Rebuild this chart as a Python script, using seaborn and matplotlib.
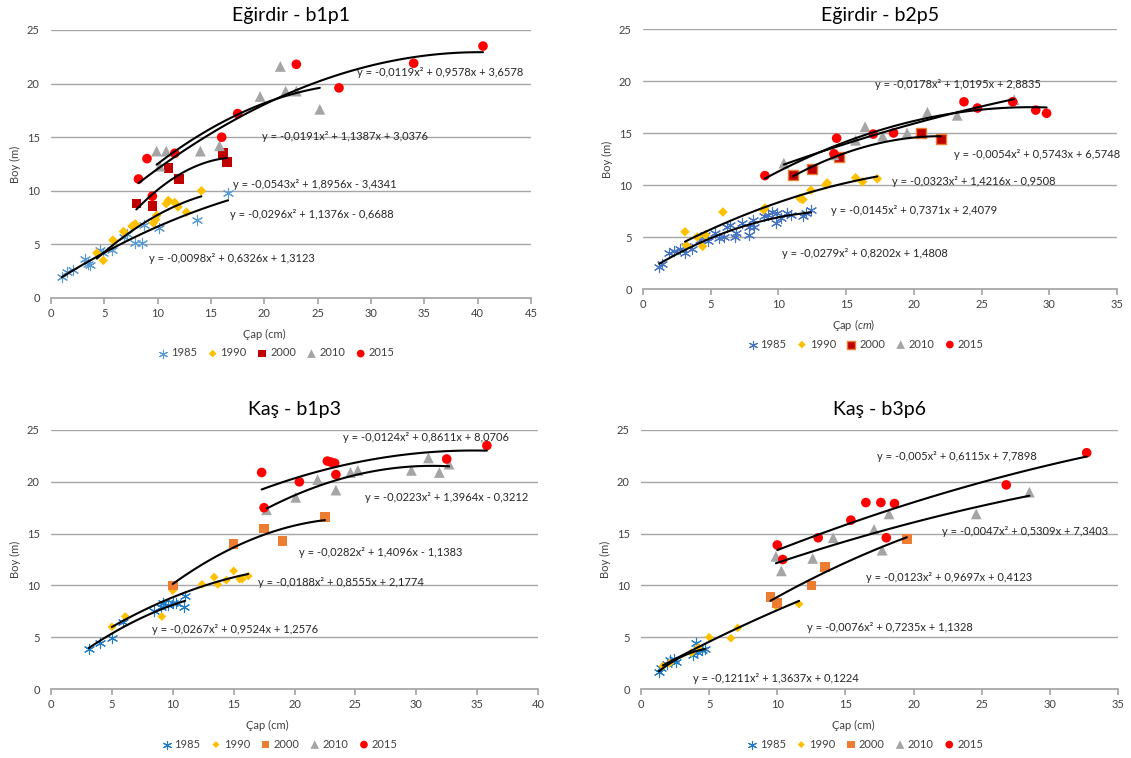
import numpy as np
import pandas as pd
import matplotlib.pyplot as plt
import seaborn as sns

sns.set_theme(style='white')
plt.rcParams['font.family'] = ['Lato', 'DejaVu Sans']
plt.rcParams['mathtext.fontset'] = 'custom'
plt.rcParams['mathtext.it'] = 'Lato:italic'
plt.rcParams['mathtext.rm'] = 'Lato'

years = ['1985', '1990', '2000', '2010', '2015']

# Eğirdir - b1p1
b1p1_x85 = [1.0, 1.5, 2.1, 3.2, 3.5, 3.7, 4.6, 4.9, 5.7, 6.8, 7.1, 7.9, 8.5, 8.7, 10.1, 13.7, 16.6]
b1p1_y85 = [2.0, 2.4, 2.6, 3.6, 3.2, 3.1, 4.5, 4.2, 4.5, 5.7, 6.0, 5.1, 5.1, 6.8, 6.5, 7.3, 9.8]
b1p1_x90 = [4.3, 4.9, 5.8, 6.8, 7.6, 7.9, 9.6, 9.8, 9.9, 10.8, 11.0, 11.6, 11.9, 12.7, 14.1]
b1p1_y90 = [4.2, 3.5, 5.4, 6.2, 6.7, 6.9, 7.0, 7.3, 7.7, 8.8, 9.1, 8.9, 8.5, 8.0, 10.0]
b1p1_x00 = [8.0, 9.5, 11.0, 12.0, 16.1, 16.5]
b1p1_y00 = [8.8, 8.6, 12.1, 11.1, 13.5, 12.7]
b1p1_x10 = [9.9, 10.2, 10.8, 14.0, 15.8, 19.6, 21.5, 22.0, 23.0, 25.2]
b1p1_y10 = [13.7, 12.3, 13.7, 13.7, 14.2, 18.8, 21.6, 19.3, 19.3, 17.6]
b1p1_x15 = [8.2, 9.0, 9.5, 11.6, 16.0, 17.5, 23.0, 27.0, 34.0, 40.5]
b1p1_y15 = [11.1, 13.0, 9.5, 13.5, 15.0, 17.2, 21.8, 19.6, 21.9, 23.5]
b1p1_coef = [[-0.0098, 0.6326, 1.3123], [-0.0296, 1.1376, -0.6688], [-0.0543, 1.8956, -3.4341],
             [-0.0191, 1.1387, 3.0376], [-0.0119, 0.9578, 3.6578]]
b1p1_eq = ['y = -0,0098x² + 0,6326x + 1,3123', 'y = -0,0296x² + 1,1376x - 0,6688',
           'y = -0,0543x² + 1,8956x - 3,4341', 'y = -0,0191x² + 1,1387x + 3,0376',
           'y = -0,0119x² + 0,9578x + 3,6578']

# Eğirdir - b2p5
b2p5_x85 = [1.2, 1.4, 1.9, 2.3, 2.7, 3.1, 3.2, 3.6, 4.2, 4.6, 4.8, 5.3, 5.6, 6.0, 6.2, 6.4, 6.8,
            6.9, 7.3, 7.8, 7.8, 8.1, 8.2, 8.9, 9.2, 9.5, 9.8, 9.9, 10.2, 10.6, 10.9, 11.8, 12.0, 12.4]
b2p5_y85 = [2.1, 2.4, 3.5, 3.7, 3.8, 3.5, 4.1, 3.8, 4.7, 5.2, 4.6, 5.4, 4.9, 5.0, 6.0, 6.2, 5.0,
            5.4, 6.3, 6.0, 5.2, 6.6, 6.0, 7.0, 7.1, 7.4, 6.3, 7.3, 6.8, 7.3, 7.1, 7.0, 7.3, 7.6]
b2p5_x90 = [3.1, 3.2, 4.0, 4.4, 4.6, 5.9, 8.9, 9.0, 11.6, 11.8, 12.4, 13.5, 13.6, 15.7, 16.2, 17.3]
b2p5_y90 = [5.5, 4.2, 5.0, 4.1, 5.2, 7.4, 7.6, 7.8, 8.7, 8.6, 9.5, 10.0, 10.2, 10.7, 10.3, 10.6]
b2p5_x00 = [11.1, 12.5, 14.5, 20.5, 22.0]
b2p5_y00 = [11.0, 11.5, 12.7, 15.0, 14.4]
b2p5_x10 = [10.4, 14.1, 15.7, 16.4, 17.7, 19.5, 21.0, 23.2, 27.4]
b2p5_y10 = [12.1, 12.9, 14.3, 15.6, 14.7, 15.0, 17.0, 16.7, 18.2]
b2p5_x15 = [9.0, 14.1, 14.3, 17.0, 18.5, 23.7, 24.7, 27.3, 29.0, 29.8]
b2p5_y15 = [10.9, 13.0, 14.5, 14.9, 15.0, 18.0, 17.4, 18.0, 17.2, 16.9]
b2p5_coef = [[-0.0279, 0.8202, 1.4808], [-0.0145, 0.7371, 2.4079], [-0.0323, 1.4216, -0.9508],
             [-0.0054, 0.5743, 6.5748], [-0.0178, 1.0195, 2.8835]]
b2p5_eq = ['y = -0,0279x² + 0,8202x + 1,4808', 'y = -0,0145x² + 0,7371x + 2,4079',
           'y = -0,0323x² + 1,4216x - 0,9508', 'y = -0,0054x² + 0,5743x + 6,5748',
           'y = -0,0178x² + 1,0195x + 2,8835']

# Kaş - b1p3
b1p3_x85 = [3.1, 4.0, 5.0, 5.9, 8.5, 9.0, 9.2, 9.6, 10.0, 10.3, 10.9, 11.0]
b1p3_y85 = [3.9, 4.4, 4.9, 6.5, 7.5, 7.9, 8.3, 8.1, 8.3, 8.3, 7.9, 9.0]
b1p3_x90 = [5.0, 6.1, 9.1, 10.0, 12.4, 13.4, 13.7, 14.4, 15.0, 15.5, 15.7, 16.2]
b1p3_y90 = [6.0, 7.0, 7.0, 9.5, 10.1, 10.8, 10.1, 10.5, 11.4, 10.6, 10.6, 10.9]
b1p3_x00 = [10.0, 15.0, 17.5, 19.0, 22.5]
b1p3_y00 = [10.0, 14.0, 15.5, 14.3, 16.6]
b1p3_x10 = [17.7, 20.1, 21.9, 23.4, 24.6, 25.2, 29.6, 31.0, 31.9, 32.7]
b1p3_y10 = [17.3, 18.5, 20.2, 19.2, 20.9, 21.1, 21.1, 22.3, 20.9, 21.7]
b1p3_x15 = [17.3, 17.5, 20.4, 22.7, 23.0, 23.3, 23.4, 32.5, 35.8]
b1p3_y15 = [20.9, 17.5, 20.0, 22.0, 21.9, 21.8, 20.7, 22.2, 23.5]
b1p3_coef = [[-0.0267, 0.9524, 1.2576], [-0.0188, 0.8555, 2.1774], [-0.0282, 1.4096, -1.1383],
             [-0.0223, 1.3964, -0.3212], [-0.0124, 0.8611, 8.0706]]
b1p3_eq = ['y = -0,0267x² + 0,9524x + 1,2576', 'y = -0,0188x² + 0,8555x + 2,1774',
           'y = -0,0282x² + 1,4096x - 1,1383', 'y = -0,0223x² + 1,3964x - 0,3212',
           'y = -0,0124x² + 0,8611x + 8,0706']

# Kaş - b3p6
b3p6_x85 = [1.3, 1.5, 1.9, 2.1, 2.4, 2.6, 3.8, 4.1, 4.2, 4.5, 4.7, 4.0]
b3p6_y85 = [1.6, 2.0, 2.4, 2.8, 2.9, 2.6, 3.3, 3.6, 3.9, 3.8, 3.9, 4.4]
b3p6_x90 = [1.6, 2.1, 3.7, 4.2, 5.0, 6.6, 7.1, 9.9, 11.6]
b3p6_y90 = [2.2, 2.5, 3.5, 4.0, 5.0, 4.9, 5.9, 8.0, 8.2]
b3p6_x00 = [9.5, 10.0, 12.5, 13.5, 19.5]
b3p6_y00 = [8.9, 8.3, 10.0, 11.8, 14.5]
b3p6_x10 = [9.9, 10.3, 12.6, 14.1, 17.1, 17.7, 18.2, 24.6, 28.5]
b3p6_y10 = [12.8, 11.4, 12.6, 14.6, 15.4, 13.4, 16.9, 16.9, 19.0]
b3p6_x15 = [10.0, 10.4, 13.0, 15.4, 16.5, 17.6, 18.6, 18.0, 26.8, 32.7]
b3p6_y15 = [13.9, 12.5, 14.6, 16.3, 18.0, 18.0, 17.9, 14.6, 19.7, 22.8]
b3p6_coef = [[-0.1211, 1.3637, 0.1224], [-0.0076, 0.7235, 1.1328], [-0.0123, 0.9697, 0.4123],
             [-0.0047, 0.5309, 7.3403], [-0.005, 0.6115, 7.7898]]
b3p6_eq = ['y = -0,1211x² + 1,3637x + 0,1224', 'y = -0,0076x² + 0,7235x + 1,1328',
           'y = -0,0123x² + 0,9697x + 0,4123', 'y = -0,0047x² + 0,5309x + 7,3403',
           'y = -0,005x² + 0,6115x + 7,7898']

W, H = 1131, 758
fig = plt.figure(figsize=(W / 100, H / 100), dpi=100)

markers = [(6, 2, 0), 'D', 's', '^', 'o']
grey_txt = '#404040'


def draw_panel(rect_px, xs, ys, coefs, eqs, eq_pos, colors, edges, sizes, title, xmax, xlabel):
    l, r, t, b = rect_px
    ax = fig.add_axes([l / W, (H - b) / H, (r - l) / W, (b - t) / H])
    wpx, hpx = r - l, b - t
    for i, yr in enumerate(years):
        df = pd.DataFrame({'x': xs[i], 'y': ys[i]})
        if i == 0:
            sns.scatterplot(data=df, x='x', y='y', marker=markers[i], color=colors[i],
                            s=sizes[i], linewidth=0.8, label=yr, ax=ax, zorder=3)
        else:
            sns.scatterplot(data=df, x='x', y='y', marker=markers[i], color=colors[i],
                            edgecolor=edges[i], linewidth=1 if edges[i] != 'none' else 0,
                            s=sizes[i], label=yr, ax=ax, zorder=3)
    # trend lines from the printed polynomial coefficients
    for i, yr in enumerate(years):
        xx = np.linspace(min(xs[i]), max(xs[i]), 100)
        sns.lineplot(x=xx, y=np.polyval(coefs[i], xx), color='black', lw=1.5,
                     ax=ax, zorder=4, legend=False)
        ax.text(eq_pos[i][0], eq_pos[i][1], eqs[i], fontsize=8, color='#262626',
                ha='left', va='center', zorder=5)
    ax.set_xlim(0, xmax)
    ax.set_ylim(0, 25)
    ax.set_xticks(np.arange(0, xmax + 1, 5))
    ax.set_yticks(np.arange(0, 26, 5))
    ax.yaxis.grid(True, color='#A6A6A6', lw=1)
    ax.xaxis.grid(False)
    ax.set_axisbelow(True)
    for s in ['top', 'right', 'left']:
        ax.spines[s].set_visible(False)
    ax.spines['bottom'].set_color('#A6A6A6')
    ax.tick_params(axis='x', length=4, color='#A6A6A6', direction='out', labelsize=8,
                   labelcolor=grey_txt, pad=3, bottom=True)
    ax.tick_params(axis='y', length=0, labelsize=8, labelcolor=grey_txt, pad=8)
    ax.set_xlabel(xlabel, fontsize=8, color=grey_txt)
    ax.xaxis.label.set_va('center')
    ax.xaxis.set_label_coords(0.445, -36 / hpx)
    ax.set_ylabel('Boy (m)', fontsize=8, color=grey_txt)
    ax.yaxis.label.set_va('center')
    ax.yaxis.set_label_coords(-36 / wpx, 0.5)
    ax.text(0.5, 1 + (t - 15 if t < 100 else t - 410) / hpx, title, transform=ax.transAxes,
            fontsize=14, ha='center', va='center', color='black')
    ax.legend(loc='center', bbox_to_anchor=(0.47, -55 / hpx), ncol=5, frameon=False,
              fontsize=8, handlelength=0.8, handletextpad=0.3, columnspacing=1.0,
              markerscale=0.8, labelcolor=grey_txt)
    return ax


draw_panel((51, 531, 30, 298),
           [b1p1_x85, b1p1_x90, b1p1_x00, b1p1_x10, b1p1_x15],
           [b1p1_y85, b1p1_y90, b1p1_y00, b1p1_y10, b1p1_y15],
           b1p1_coef, b1p1_eq,
           [(9.2, 3.7), (16.8, 7.75), (17.1, 10.55), (19.8, 15.1), (28.7, 21.05)],
           ['#5B9BD5', '#FFC000', '#C00000', '#A5A5A5', '#FF0000'],
           ['none', 'none', 'none', 'none', 'none'],
           [55, 24, 48, 60, 48], 'Eğirdir - b1p1', 45, 'Çap (cm)')

draw_panel((643, 1117, 29, 289),
           [b2p5_x85, b2p5_x90, b2p5_x00, b2p5_x10, b2p5_x15],
           [b2p5_y85, b2p5_y90, b2p5_y00, b2p5_y10, b2p5_y15],
           b2p5_coef, b2p5_eq,
           [(10.3, 3.4), (13.9, 7.5), (18.4, 10.3), (23.0, 12.9), (17.1, 19.7)],
           ['#4472C4', '#FFC000', '#C00000', '#A5A5A5', '#FF0000'],
           ['none', 'none', '#ED7D31', 'none', 'none'],
           [55, 24, 45, 60, 48], 'Eğirdir - b2p5', 35, 'Çap ($\\mathit{cm}$)')

draw_panel((51, 538, 430, 689),
           [b1p3_x85, b1p3_x90, b1p3_x00, b1p3_x10, b1p3_x15],
           [b1p3_y85, b1p3_y90, b1p3_y00, b1p3_y10, b1p3_y15],
           b1p3_coef, b1p3_eq,
           [(8.3, 5.7), (17.0, 10.3), (20.4, 13.2), (25.8, 18.5), (24.0, 24.3)],
           ['#1F7AC8', '#FFC000', '#ED7D31', '#A5A5A5', '#FF0000'],
           ['none', 'none', 'none', 'none', 'none'],
           [55, 20, 48, 60, 48], 'Kaş - b1p3', 40, 'Çap (cm)')

draw_panel((641, 1118, 430, 689),
           [b3p6_x85, b3p6_x90, b3p6_x00, b3p6_x10, b3p6_x15],
           [b3p6_y85, b3p6_y90, b3p6_y00, b3p6_y10, b3p6_y15],
           b3p6_coef, b3p6_eq,
           [(3.8, 1.0), (12.2, 5.9), (16.5, 10.8), (22.1, 15.2), (17.3, 22.4)],
           ['#1F7AC8', '#FFC000', '#ED7D31', '#A5A5A5', '#FF0000'],
           ['none', 'none', 'none', 'none', 'none'],
           [55, 20, 48, 60, 48], 'Kaş - b3p6', 35, 'Çap (cm)')

plt.savefig('out.png', dpi=100)
